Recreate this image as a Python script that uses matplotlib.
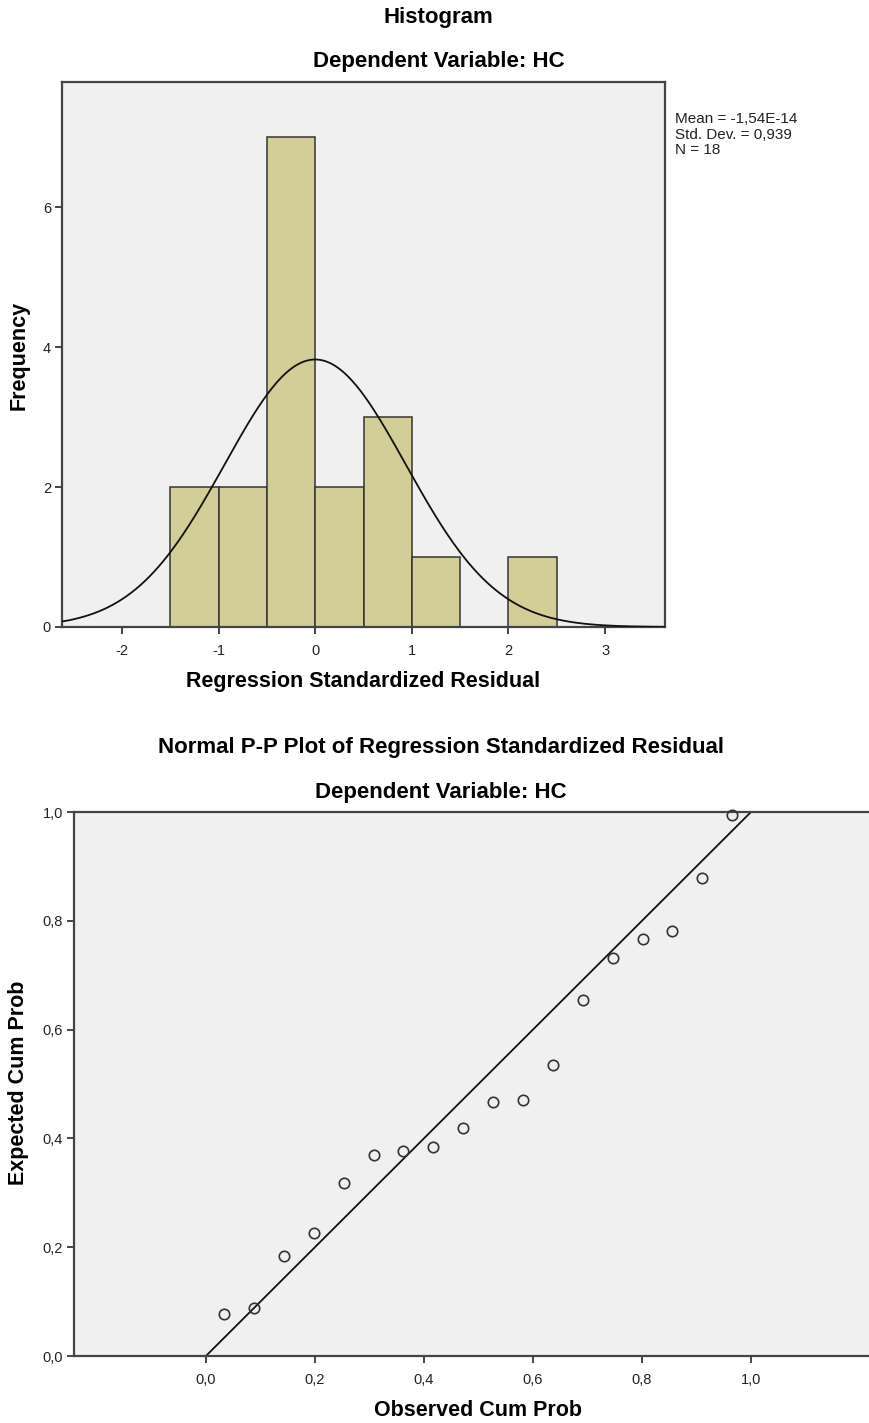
import numpy as np
import matplotlib
matplotlib.use("Agg")
from matplotlib import pyplot as plt

# histogram of regression standardized residuals
bin_edges = [-1.5, -1.0, -0.5, 0.0, 0.5, 1.0, 1.5, 2.0, 2.5]
bin_counts = [2, 2, 7, 2, 3, 1, 0, 1]
res_mean = -1.54e-14
res_sd = 0.939
res_n = 18

# normal P-P plot points
observed_cum = [0.034, 0.089, 0.144, 0.198, 0.253, 0.308, 0.362, 0.417, 0.472,
                0.527, 0.582, 0.637, 0.691, 0.746, 0.801, 0.856, 0.910, 0.965]
expected_cum = [0.077, 0.089, 0.184, 0.227, 0.318, 0.369, 0.376, 0.385, 0.420,
                0.467, 0.471, 0.535, 0.654, 0.731, 0.766, 0.782, 0.879, 0.995]

hist_xticks = [-2, -1, 0, 1, 2, 3]
hist_yticks = [0, 2, 4, 6]
pp_ticks = [0.0, 0.2, 0.4, 0.6, 0.8, 1.0]

plt.rcParams["font.family"] = ["Liberation Sans", "DejaVu Sans"]

bg = "#f0f0f0"
spine_col = "#444444"
bar_col = "#d3ce97"
title_fs = 16
label_fs = 15.5
tick_fs = 10.5

W, H = 869, 1423
fig = plt.figure(figsize=(W / 100, H / 100), dpi=100)


def fy(py):
    # pixel row from the top -> figure fraction
    return 1 - py / H


def style_axes(ax):
    ax.set_facecolor(bg)
    for s in ax.spines.values():
        s.set_color(spine_col)
        s.set_linewidth(1.6)
    ax.tick_params(direction="out", length=5, width=1.4, color=spine_col,
                   labelsize=tick_fs, labelcolor="#222222", pad=3)
    ax.tick_params(axis="x", pad=7)


# ---- histogram ----
ax1 = fig.add_axes([62 / W, fy(627), (665 - 62) / W, (627 - 82) / H])
style_axes(ax1)
widths = np.diff(bin_edges)
ax1.bar(bin_edges[:-1], bin_counts, width=widths, align="edge",
        color=bar_col, edgecolor="#333333", linewidth=1.1, zorder=2)
xs = np.linspace(-2.62, 3.62, 400)
scale = res_n * 0.5
curve = scale / (res_sd * np.sqrt(2 * np.pi)) * np.exp(-0.5 * ((xs - res_mean) / res_sd) ** 2)
ax1.plot(xs, curve, color="#111111", linewidth=1.3, zorder=3)
ax1.set_xlim(-2.62, 3.62)
ax1.set_ylim(0, 7.79)
ax1.set_xticks(hist_xticks)
ax1.set_yticks(hist_yticks)
ax1.set_xticklabels([str(t) for t in hist_xticks])
fig.text(675 / W, fy(112), "Mean = -1,54E-14\nStd. Dev. = 0,939\nN = 18",
         fontsize=11, va="top", ha="left", linespacing=1.15, color="#222222")

fig.text(0.505, fy(18), "Histogram", ha="center", va="center",
         fontsize=title_fs, fontweight="bold")
fig.text(0.505, fy(62), "Dependent Variable: HC", ha="center", va="center",
         fontsize=title_fs, fontweight="bold")
fig.text((62 + 665) / 2 / W, fy(682), "Regression Standardized Residual",
         ha="center", va="center", fontsize=label_fs, fontweight="bold")
fig.text(19 / W, fy(355), "Frequency", ha="center", va="center", rotation=90,
         fontsize=label_fs, fontweight="bold")

# ---- P-P plot ----
ax2 = fig.add_axes([74 / W, fy(1356), (W - 74) / W, (1356 - 812) / H])
style_axes(ax2)
ax2.spines["right"].set_visible(False)
ax2.plot([0, 1], [0, 1], color="#111111", linewidth=1.3, zorder=2)
ax2.plot(observed_cum, expected_cum, linestyle="none", marker="o", markersize=7.5,
         markerfacecolor="none", markeredgecolor="#333333", markeredgewidth=1.2,
         zorder=3, clip_on=False)
ax2.set_xlim(-0.242, 1.2165)
ax2.set_ylim(0, 1.0)
ax2.set_xticks(pp_ticks)
ax2.set_yticks(pp_ticks)
ax2.set_xticklabels([f"{t:.1f}".replace(".", ",") for t in pp_ticks])
ax2.set_yticklabels([f"{t:.1f}".replace(".", ",") for t in pp_ticks])

fig.text(0.507, fy(748), "Normal P-P Plot of Regression Standardized Residual",
         ha="center", va="center", fontsize=title_fs, fontweight="bold")
fig.text(0.507, fy(792), "Dependent Variable: HC", ha="center", va="center",
         fontsize=title_fs, fontweight="bold")
fig.text(478 / W, fy(1410), "Observed Cum Prob", ha="center", va="center",
         fontsize=label_fs, fontweight="bold")
fig.text(19 / W, fy(1083), "Expected Cum Prob", ha="center", va="center", rotation=90,
         fontsize=label_fs, fontweight="bold")

fig.savefig("out.png", dpi=100, facecolor="white")
